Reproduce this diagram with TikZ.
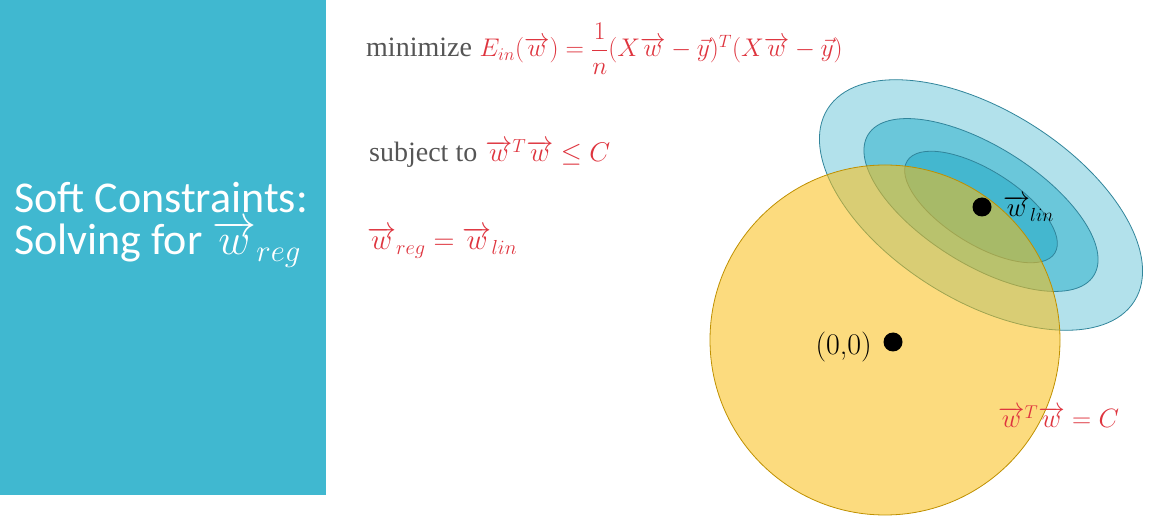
\RequirePackage{fix-cm}
\documentclass[tikz,border=0pt]{standalone}
\usepackage{amsmath}
\usepackage{fontspec}
\newfontfamily\titlefont{Carlito}
\newfontfamily\wordfont{Liberation Serif}
\definecolor{panelblue}{RGB}{64,184,208}
\definecolor{txtgray}{RGB}{85,85,85}
\definecolor{eqred}{RGB}{222,52,62}
\definecolor{ellA}{RGB}{178,225,235}
\definecolor{ellB}{RGB}{106,199,218}
\definecolor{ellC}{RGB}{68,183,207}
\definecolor{ellD}{RGB}{49,133,155}
\definecolor{goldF}{RGB}{250,190,20}
\definecolor{goldD}{RGB}{191,144,0}
\newcommand{\vw}{\overrightarrow{w}}
\newcommand{\vy}{\vec{y}}
\newcommand{\grayword}[1]{\textcolor{txtgray}{\wordfont\fontsize{28}{33}\selectfont #1}}
\begin{document}
\begin{tikzpicture}[x=1pt,y=1pt,
  eq/.style={anchor=base west, inner sep=0pt, font=\fontsize{27}{32}\selectfont},
  dot/.style={circle, fill=black, minimum size=19pt, inner sep=0pt},
  titletxt/.style={anchor=base west, inner sep=0pt, text=white, font=\titlefont\fontsize{44}{42}\selectfont},
  ell/.style={draw=ellD, line width=0.8pt}
]
\useasboundingbox (0,0) rectangle (1154,525);
\node[fill=panelblue, minimum width=326pt, minimum height=495pt, anchor=north west, inner sep=0pt] (panel) at (0,525) {};
\node[titletxt] (title1) at (14,312) {Soft Constraints:};
\node[titletxt] (title2) at (14,270) {Solving for $\vw_{reg}$};

\node[eq, font=\fontsize{25.5}{30}\selectfont] (obj) at (366,468) {\grayword{minimize} \textcolor{eqred}{$E_{in}(\vw)=\dfrac{1}{n}(X\vw-\vy)^T(X\vw-\vy)$}};
\node[eq] (subj) at (369,363) {\grayword{subject to} \textcolor{eqred}{$\vw^T\vw\le C$}};
\node[eq, font=\fontsize{29}{33}\selectfont] (sol) at (367,275) {\textcolor{eqred}{$\vw_{reg}=\vw_{lin}$}};

\filldraw[ell, fill=ellA, rotate around={-32:(981,320)}] (981,320) ellipse [x radius=181pt, y radius=95pt];
\filldraw[ell, fill=ellB, rotate around={-32:(981,320)}] (981,320) ellipse [x radius=133pt, y radius=59pt];
\filldraw[ell, fill=ellC, rotate around={-32:(981,318)}] (981,318) ellipse [x radius=87pt, y radius=37pt];

\filldraw[fill=goldF, fill opacity=0.55, draw=goldD, line width=0.8pt] (885,185) circle [radius=175pt];

\node[dot] (wlin) at (982,318) {};
\node[eq, font=\fontsize{27}{31}\selectfont] (wlinlbl) at (1003,308) {$\vw_{lin}$};
\node[dot] (origin) at (893,183) {};
\node[eq, anchor=base east, font=\fontsize{30}{34}\selectfont] (originlbl) at (872,170) {(0,0)};
\node[eq, font=\fontsize{26.5}{31}\selectfont] (circlbl) at (998,97) {\textcolor{eqred}{$\vw^T\vw=C$}};
\end{tikzpicture}
\end{document}
